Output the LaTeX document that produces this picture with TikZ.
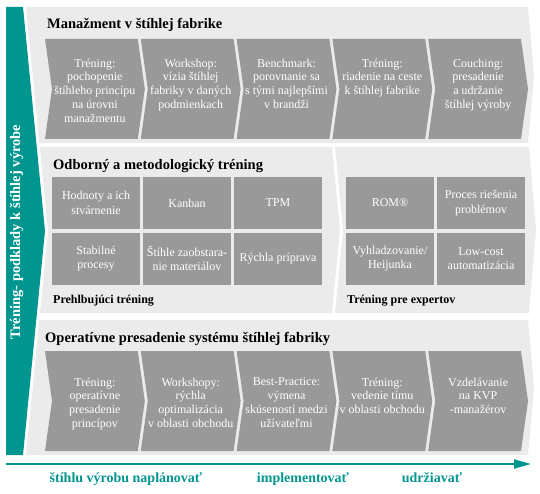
\documentclass[tikz,border=0pt]{standalone}
\usepackage{fontspec}
\setmainfont{Liberation Serif}
\usetikzlibrary{arrows.meta}
\definecolor{tealA}{RGB}{0,150,143}
\definecolor{panelgray}{RGB}{235,235,235}
\definecolor{boxgray}{RGB}{153,153,153}
\begin{document}
\begin{tikzpicture}[x=1pt,y=-1pt,
  panel/.style={fill=panelgray,draw=none},
  chevbox/.style={fill=boxgray,draw=none},
  gridbox/.style={fill=boxgray,draw=none,minimum width=88pt,minimum height=52pt,inner sep=0pt,
    text=white,font=\fontsize{12}{14.5}\selectfont,align=center},
  boxtext/.style={text=white,font=\fontsize{12}{13.8}\selectfont,align=center,inner sep=0pt,anchor=north},
  ptitle/.style={font=\fontsize{14.5}{16}\selectfont\bfseries,anchor=base west,inner sep=0pt},
  psub/.style={font=\fontsize{12}{14}\selectfont\bfseries,anchor=base west,inner sep=0pt},
  phase/.style={font=\fontsize{14}{16}\selectfont\bfseries,text=tealA,inner sep=0pt,anchor=base}
]
\useasboundingbox (0,0) rectangle (540,494);
% teal band
\fill[tealA] (6,7) -- (23,7) -- (45,231) -- (23,455) -- (6,455) -- cycle;
\node[rotate=90,text=white,font=\fontsize{14.5}{16}\selectfont\bfseries,inner sep=0pt] (side) at (16.5,232) {Tréning- podklady k štíhlej výrobe};
% panels
\fill[panel] (26,7) -- (528,7) -- (534,75) -- (528,143) -- (39.4,143) -- cycle;
\fill[panel] (39.8,147) -- (332,147) -- (340,230) -- (332,313) -- (40,313) -- (48,231) -- cycle;
\fill[panel] (335,147) -- (529,147) -- (536,230) -- (529,313) -- (335,313) -- (343,230) -- cycle;
\fill[panel] (39.3,320) -- (528,320) -- (534,387.5) -- (528,455) -- (26,455) -- cycle;
% titles
\node[ptitle] (t1) at (47,28.5) {Manažment v štíhlej fabrike};
\node[ptitle] (t2) at (53,170) {Odborný a metodologický tréning};
\node[ptitle] (t3) at (45,342) {Operatívne presadenie systému štíhlej fabriky};
\node[psub] (s1) at (53,303) {Prehlbujúci tréning};
\node[psub] (s2) at (347,303) {Tréning pre expertov};
% panel 1 chevrons
\foreach \i/\t in {0/{Tréning:\\pochopenie\\štíhleho princípu\\na úrovni\\manažmentu},
                   1/{Workshop:\\vízia štíhlej\\fabriky v daných\\podmienkach},
                   2/{Benchmark:\\porovnanie sa\\s tými najlepšími\\v brandži},
                   3/{Tréning:\\riadenie na ceste\\k štíhlej fabrike},
                   4/{Couching:\\presadenie\\a udržanie\\štíhlej výroby}}{
  \pgfmathsetmacro\L{45+\i*95.8}
  \pgfmathsetmacro\R{\L+92.8}
  \fill[chevbox] (\L,39) -- (\R,39) -- ({\R+7},89) -- (\R,139) -- (\L,139) -- ({\L+7},89) -- cycle;
  \node[boxtext] (a\i) at ({(\L+\R)/2+3.5},58.5) {\t};
}
% panel 3 chevrons
\foreach \i/\t in {0/{Tréning:\\operatívne\\presadenie\\princípov},
                   1/{Workshopy:\\rýchla\\optimalizácia\\v oblasti obchodu},
                   2/{Best-Practice:\\výmena\\skúseností medzi\\užívateľmi},
                   3/{Tréning:\\vedenie tímu\\v oblasti obchodu},
                   4/{Vzdelávanie\\na KVP\\-manažérov}}{
  \pgfmathsetmacro\L{45+\i*95.8}
  \pgfmathsetmacro\R{\L+92.8}
  \fill[chevbox] (\L,351) -- (\R,351) -- ({\R+7},401) -- (\R,451) -- (\L,451) -- ({\L+7},401) -- cycle;
  \node[boxtext] (c\i) at ({(\L+\R)/2+3.5},377.5) {\t};
}
% panel 2 grid
\node[gridbox] (g11) at (96,203) {Hodnoty a ich\\stvárnenie};
\node[gridbox] (g12) at (187,203) {Kanban};
\node[gridbox] (g13) at (278,203) {TPM};
\node[gridbox] (g21) at (96,258.5) {Stabilné\\procesy};
\node[gridbox] (g22) at (187,258.5) {Štíhle zaobstara-\\nie materiálov};
\node[gridbox] (g23) at (278,258.5) {Rýchla príprava};
\node[gridbox] (e11) at (390,203) {ROM®};
\node[gridbox] (e12) at (481,203) {Proces riešenia\\problémov};
\node[gridbox] (e21) at (390,258.5) {Vyhladzovanie/\\Heijunka};
\node[gridbox] (e22) at (481,258.5) {Low-cost\\automatizácia};
% time axis
\coordinate (ax0) at (6,464);
\coordinate (ax1) at (531,464);
\draw[tealA,line width=2pt,-{Triangle[length=17pt,width=9pt]}] (ax0) -- (ax1);
\node[phase] (p1) at (126,482) {štíhlu výrobu naplánovať};
\node[phase] (p2) at (303,482) {implementovať};
\node[phase] (p3) at (432,482) {udržiavať};
\end{tikzpicture}
\end{document}
